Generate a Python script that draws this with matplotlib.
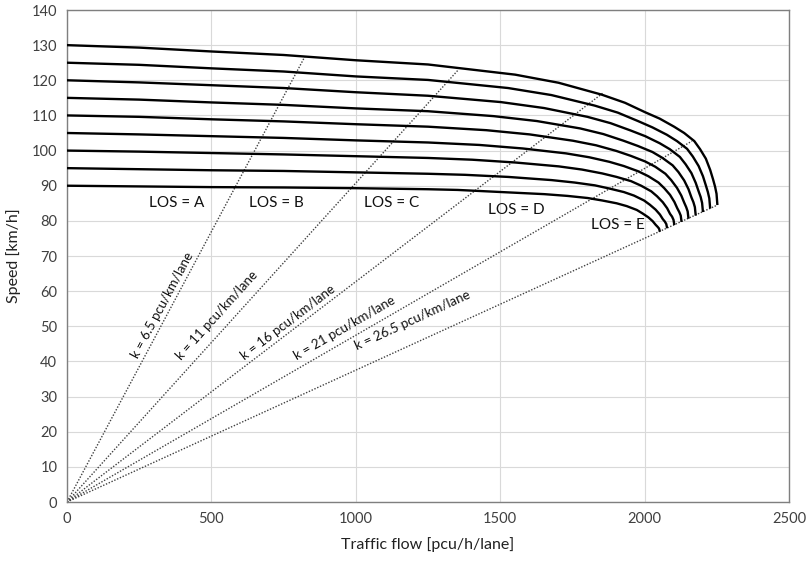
import matplotlib.pyplot as plt

plt.rcParams["font.family"] = ["Lato", "DejaVu Sans"]

# speed-flow curves, one per free-flow speed
q90 = [0, 250, 500, 750, 1000, 1250, 1353, 1503, 1653, 1733, 1803, 1853, 1903, 1938,
       1973, 1993, 2013, 2028, 2038, 2045, 2050, 2053]
v90 = [90, 89.8, 89.6, 89.5, 89.3, 89.0, 88.8, 88.2, 87.6, 87.1, 86.5, 85.8, 85.0, 84.2,
       83.1, 82.1, 81.0, 79.9, 78.9, 78.3, 77.8, 76.9]
q95 = [0, 250, 500, 750, 1000, 1250, 1378, 1528, 1678, 1758, 1828, 1878, 1928, 1963,
       1998, 2018, 2038, 2053, 2063, 2070, 2075, 2078]
v95 = [95, 94.7, 94.4, 94.2, 93.8, 93.4, 93.1, 92.5, 91.6, 90.9, 90.1, 89.2, 88.2, 87.2,
       85.8, 84.6, 83.2, 81.8, 80.5, 79.8, 79.1, 77.9]
q100 = [0, 250, 500, 750, 1000, 1250, 1403, 1553, 1703, 1783, 1853, 1903, 1953, 1988,
        2023, 2043, 2063, 2078, 2088, 2095, 2100, 2103]
v100 = [100, 99.7, 99.3, 98.9, 98.4, 97.9, 97.4, 96.6, 95.5, 94.6, 93.5, 92.5, 91.3, 90.0,
        88.4, 87.0, 85.3, 83.6, 82.0, 81.2, 80.3, 78.8]
q105 = [0, 250, 500, 750, 1000, 1250, 1428, 1578, 1728, 1808, 1878, 1928, 1978, 2013,
        2048, 2068, 2088, 2103, 2113, 2120, 2125, 2128]
v105 = [105, 104.6, 104.1, 103.6, 102.9, 102.3, 101.6, 100.6, 99.2, 98.1, 96.8, 95.6, 94.1, 92.7,
        90.9, 89.3, 87.4, 85.4, 83.6, 82.5, 81.5, 79.7]
q110 = [0, 250, 500, 750, 1000, 1250, 1452, 1602, 1752, 1832, 1902, 1952, 2002, 2037,
        2072, 2092, 2112, 2127, 2137, 2144, 2149, 2152]
v110 = [110, 109.6, 108.9, 108.3, 107.5, 106.8, 105.8, 104.6, 102.8, 101.5, 99.9, 98.5, 96.9, 95.4,
        93.4, 91.6, 89.4, 87.2, 85.2, 83.9, 82.7, 80.6]
q115 = [0, 250, 500, 750, 1000, 1250, 1477, 1627, 1777, 1857, 1927, 1977, 2027, 2062,
        2097, 2117, 2137, 2152, 2162, 2169, 2174, 2177]
v115 = [115, 114.5, 113.7, 113.0, 112.0, 111.2, 109.8, 108.4, 106.3, 104.7, 102.8, 101.3, 99.6, 97.9,
        95.8, 93.9, 91.5, 89.0, 86.7, 85.3, 83.9, 81.5]
q120 = [0, 250, 500, 750, 1000, 1250, 1502, 1652, 1802, 1882, 1952, 2002, 2052, 2087,
        2122, 2142, 2162, 2177, 2187, 2194, 2199, 2202]
v120 = [120, 119.4, 118.6, 117.8, 116.6, 115.6, 113.8, 112.1, 109.6, 107.8, 105.7, 104.1, 102.1, 100.4,
        98.2, 96.1, 93.6, 90.8, 88.4, 86.8, 85.1, 82.5]
q125 = [0, 250, 500, 750, 1000, 1250, 1527, 1677, 1827, 1907, 1977, 2027, 2077, 2112,
        2147, 2167, 2187, 2202, 2212, 2219, 2224, 2227]
v125 = [125, 124.4, 123.4, 122.5, 121.1, 120.1, 117.8, 115.8, 112.8, 110.8, 108.4, 106.6, 104.5, 102.7,
        100.5, 98.3, 95.6, 92.7, 90.1, 88.2, 86.4, 83.5]
q130 = [0, 250, 500, 750, 1000, 1250, 1552, 1702, 1852, 1932, 2002, 2052, 2102, 2137,
        2172, 2192, 2212, 2227, 2237, 2244, 2249, 2252]
v130 = [130, 129.3, 128.2, 127.2, 125.7, 124.5, 121.6, 119.3, 115.9, 113.6, 110.9, 109.1, 106.8, 105.0,
        102.7, 100.4, 97.7, 94.5, 91.8, 89.7, 87.7, 84.5]

flows = [q90, q95, q100, q105, q110, q115, q120, q125, q130]
speeds = [v90, v95, v100, v105, v110, v115, v120, v125, v130]

# constant-density lines: from origin to where they stop on the chart
densities = ["6.5", "11", "16", "21", "26.5"]
k_end_flow = [824, 1354, 1856, 2164, 2252]
k_end_speed = [126.8, 122.9, 116.4, 102.7, 84.5]
k_label_x = [332, 519, 765, 963, 1195]
k_label_y = [56.1, 53.2, 51.2, 49.5, 51.8]
k_label_rot = [61.9, 47.9, 37.3, 30.1, 24.7]

los_names = ["A", "B", "C", "D", "E"]
los_x = [381, 724, 1125, 1555, 1908]
los_y = [85.1, 85.1, 85.1, 83.1, 78.8]

fig = plt.figure(figsize=(8.11, 5.65), dpi=100)
ax = fig.add_axes([0.0826, 0.1115, 0.8903, 0.8708])

for q, v in zip(flows, speeds):
    ax.plot(q, v, color="black", lw=1.7, solid_capstyle="butt",
            solid_joinstyle="round", zorder=3)

for i, k in enumerate(densities):
    ax.plot([0, k_end_flow[i]], [0, k_end_speed[i]], color="#404040",
            ls=(0, (1, 1.2)), lw=1.0, zorder=2)
    ax.text(k_label_x[i], k_label_y[i], f"k = {k} pcu/km/lane",
            rotation=k_label_rot[i], ha="center", va="center",
            rotation_mode="anchor", fontsize=9.5, color="#111111")

for name, x, y in zip(los_names, los_x, los_y):
    ax.text(x, y, f"LOS = {name}", ha="center", va="center",
            fontsize=11, color="#111111")

ax.set_xlim(0, 2500)
ax.set_ylim(0, 140)
ax.set_xticks(range(0, 2501, 500))
ax.set_yticks(range(0, 141, 10))
ax.grid(color="#d9d9d9", lw=0.8)
ax.set_axisbelow(True)
ax.tick_params(length=0, labelsize=10.5, colors="#404040", pad=7)
for s in ax.spines.values():
    s.set_color("#7f7f7f")
    s.set_linewidth(1.0)

ax.set_xlabel("Traffic flow [pcu/h/lane]", fontsize=11.5, color="#222222", labelpad=8)
ax.set_ylabel("Speed [km/h]", fontsize=11.5, color="#222222", labelpad=8)

fig.savefig("out.png", dpi=100)
